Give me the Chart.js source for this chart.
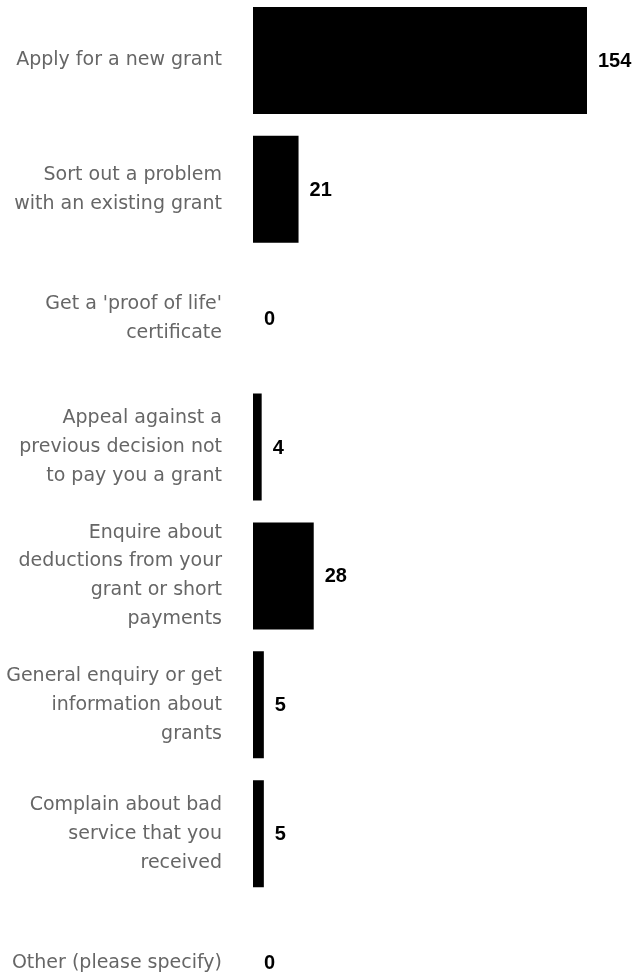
<!DOCTYPE html>
<html>
<head>
<meta charset="utf-8">
<title>Reasons for visiting</title>
<script src="https://cdn.jsdelivr.net/npm/chart.js@4/dist/chart.umd.min.js"></script>
<style>
  html, body { margin: 0; padding: 0; background: #fff; overflow: hidden; }
  #wrap { position: relative; width: 638px; height: 1031px; margin-top: -4px; }
</style>
</head>
<body>
<div id="wrap"><canvas id="reasonChart"></canvas></div>
<script>
// labels are pre-wrapped the way they appear in the picture
var reasons = [
  ['Apply for a new grant'],
  ['Sort out a problem', 'with an existing grant'],
  ["Get a 'proof of life'", 'certificate'],
  ['Appeal against a', 'previous decision not', 'to pay you a grant'],
  ['Enquire about', 'deductions from your', 'grant or short', 'payments'],
  ['General enquiry or get', 'information about', 'grants'],
  ['Complain about bad', 'service that you', 'received'],
  ['Other (please specify)']
];
var counts = [154, 21, 0, 4, 28, 5, 5, 0];

// writes the count just right of each bar
var valueLabels = {
  id: 'valueLabels',
  afterDatasetsDraw: function(chart) {
    var ctx = chart.ctx;
    var meta = chart.getDatasetMeta(0);
    ctx.save();
    ctx.font = 'bold 20px "Liberation Sans", Arial, sans-serif';
    ctx.fillStyle = '#000';
    ctx.textAlign = 'left';
    ctx.textBaseline = 'middle';
    meta.data.forEach(function(bar, i) {
      ctx.fillText(String(counts[i]), bar.x + 11, bar.y + 1);
    });
    ctx.restore();
  }
};

var ctx = document.getElementById('reasonChart').getContext('2d');
var myChart = new Chart(ctx, {
  type: 'bar',
  data: {
    labels: reasons,
    datasets: [{
      data: counts,
      backgroundColor: '#000',
      borderWidth: 0,
      barPercentage: 0.83,
      categoryPercentage: 1
    }]
  },
  options: {
    indexAxis: 'y',
    responsive: true,
    maintainAspectRatio: false,
    animation: false,
    layout: { padding: { top: 0, bottom: 0, left: 0, right: 51 } },
    plugins: {
      legend: { display: false },
      tooltip: { enabled: false }
    },
    scales: {
      x: {
        display: false,
        min: 0,
        max: 154
      },
      y: {
        grid: { display: false, drawTicks: false },
        border: { display: false },
        afterFit: function(scale) {
          scale.width = 253;
          // the long labels would otherwise push the plot area inwards
          scale.paddingTop = 0;
          scale.paddingBottom = 0;
        },
        ticks: {
          color: '#666',
          padding: 31,
          autoSkip: false,
          font: { family: '"DejaVu Sans", sans-serif', size: 19, lineHeight: 1.52 }
        }
      }
    }
  },
  plugins: [valueLabels]
});
</script>
</body>
</html>
